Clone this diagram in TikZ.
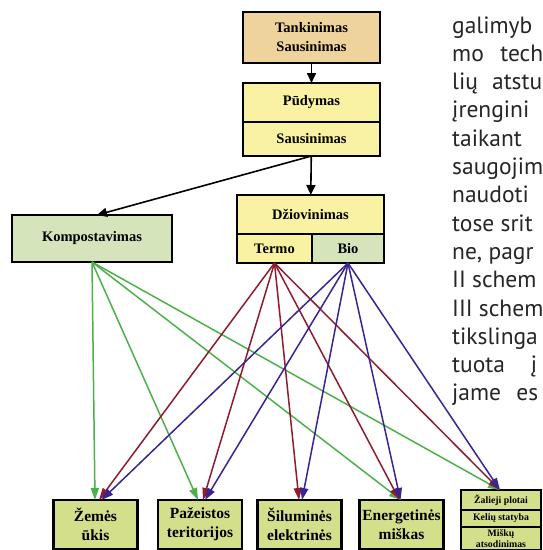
\documentclass[tikz,border=0pt]{standalone}
\usepackage{fontspec}
\setmainfont{Liberation Serif}
\newfontfamily\bodyfont{PT Sans}
\usetikzlibrary{arrows.meta}
\definecolor{tanc}{HTML}{EFD39C}
\definecolor{yelc}{HTML}{F8F2A2}
\definecolor{lgrc}{HTML}{D6E4BC}
\definecolor{botc}{HTML}{D4DF8C}
\definecolor{grn}{HTML}{4DB04A}
\definecolor{redc}{HTML}{8E1B2E}
\definecolor{blu}{HTML}{3B2490}
\tikzset{
  box/.style={draw=black, line width=1.8pt, font=\bfseries\fontsize{14.5}{19}\selectfont, align=center, inner sep=0pt, outer sep=0pt},
  botbox/.style={box, fill=botc, line width=2.4pt, font=\bfseries\fontsize{15.5}{19}\selectfont, minimum width=84pt, minimum height=49pt},
  smallbox/.style={box, fill=botc, line width=1.8pt, font=\bfseries\fontsize{9.8}{10.5}\selectfont, minimum width=80pt},
  blk/.style={line width=1.6pt, -{Triangle[length=10pt,width=9pt]}},
  gconn/.style={grn, line width=1.5pt, -{Triangle[length=12pt,width=8pt]}},
  rconn/.style={redc, line width=1.5pt, -{Triangle[length=12pt,width=8pt]}},
  bconn/.style={blu, line width=1.5pt, -{Triangle[length=12pt,width=8pt]}},
  bodytxt/.style={anchor=base west, inner sep=0pt, font=\bodyfont\fontsize{23.5}{28}\selectfont, text=black!85}
}
\begin{document}
\begin{tikzpicture}[x=1pt,y=-1pt]
\useasboundingbox (0,0) rectangle (542,550);
\fill[white] (0,0) rectangle (542,550);

% body text on the right, cut at the edge
\begin{scope}
\clip (0,0) rectangle (542,550);
\node[bodytxt] (t1) at (452,33) {galimyb};
\node[bodytxt] (t2) at (452,61.3) {mo\hspace{0.7em}tech};
\node[bodytxt] (t3) at (452,89.6) {lių\hspace{0.6em}atstu};
\node[bodytxt] (t4) at (452,117.9) {įrengini};
\node[bodytxt] (t5) at (452,146.2) {taikant};
\node[bodytxt] (t6) at (452,174.5) {saugojim};
\node[bodytxt] (t7) at (452,202.8) {naudoti};
\node[bodytxt] (t8) at (452,231.1) {tose srit};
\node[bodytxt] (t9) at (452,259.4) {ne, pagr};
\node[bodytxt] (t10) at (452,287.7) {II schem};
\node[bodytxt] (t11) at (452,316) {III schem};
\node[bodytxt] (t12) at (452,344.3) {tikslinga};
\node[bodytxt] (t13) at (452,372.6) {tuota\hspace{1.1em}į};
\node[bodytxt] (t14) at (452,400.9) {jame\hspace{0.65em}es};
\end{scope}

% upper boxes
\node[box, fill=tanc, minimum width=137pt, minimum height=51pt] (tank) at (311.5,37.5) {Tankinimas\\Sausinimas};
\node[box, fill=yelc, minimum width=137pt, minimum height=39pt] (pud) at (311.5,102.5) {Pūdymas};
\node[box, fill=yelc, minimum width=137pt, minimum height=34pt] (saus) at (311.5,139) {Sausinimas};
\node[box, fill=lgrc, minimum width=160pt, minimum height=47pt] (komp) at (92,238.5) {Kompostavimas};
\node[box, fill=yelc, minimum width=147pt, minimum height=39pt] (dziov) at (310.5,214.5) {Džiovinimas};
\node[box, fill=yelc, minimum width=75pt, minimum height=29pt] (termo) at (274.5,248.5) {Termo};
\node[box, fill=lgrc, minimum width=72pt, minimum height=29pt] (bio) at (348,248.5) {Bio};

% bottom boxes
\node[botbox] (zem) at (95.5,524.5) {Žemės\\ūkis};
\node[botbox] (paz) at (200,524.5) {Pažeistos\\teritorijos};
\node[botbox] (sil) at (299.5,524.5) {Šiluminės\\elektrinės};
\node[botbox] (ener) at (401.5,524.5) {Energetinės\\miškas};
\node[smallbox, minimum height=20pt] (zal) at (501,500) {Žalieji plotai};
\node[smallbox, minimum height=17pt] (kel) at (501,518.5) {Kelių statyba};
\node[smallbox, minimum height=23pt] (misk) at (501,538.5) {Miškų\\atsodinimas};

% black arrows
\draw[blk] (tank) -- (pud);
\draw[blk] (saus) -- (dziov);
\draw[blk] (saus.south) -- ([xshift=5pt]komp.north);

% green arrows from Kompostavimas
\draw[gconn] (komp.south) -- ([xshift=-0.5pt]zem.north);
\draw[gconn] (komp.south) -- ([xshift=-2pt]paz.north);
\draw[gconn] (komp.south) -- ([xshift=-0.5pt]ener.north);
\draw[gconn] (komp.south) -- ([xshift=-1pt]zal.north);

% red arrows from Termo
\draw[rconn] (termo.south) -- ([xshift=3.5pt]zem.north);
\draw[rconn] (termo.south) -- ([xshift=3pt]paz.north);
\draw[rconn] (termo.south) -- ([xshift=-0.5pt]sil.north);
\draw[rconn] (termo.south) -- ([xshift=-2pt]ener.north);
\draw[rconn] (termo.south) -- ([xshift=-1pt]zal.north);

% blue arrows from Bio
\draw[bconn] (bio.south) -- ([xshift=6pt]zem.north);
\draw[bconn] (bio.south) -- ([xshift=5pt]paz.north);
\draw[bconn] (bio.south) -- ([xshift=2.5pt]sil.north);
\draw[bconn] (bio.south) -- ([xshift=-1pt]ener.north);
\draw[bconn] (bio.south) -- ([xshift=-1pt]zal.north);
\end{tikzpicture}
\end{document}
